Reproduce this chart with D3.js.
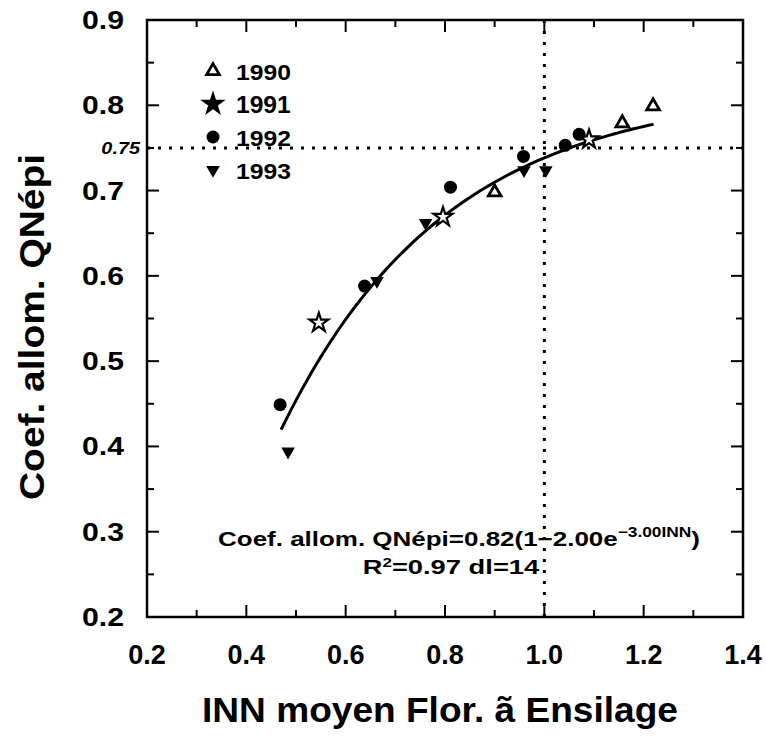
<!DOCTYPE html>
<html><head><meta charset="utf-8">
<script src="https://cdn.jsdelivr.net/npm/d3@7"></script>
<style>body{margin:0;background:#fff}svg{display:block}text{font-family:"Liberation Sans",Arial,sans-serif;fill:#000}</style>
</head><body>
<script>
const years = ["1990","1991","1992","1993"];
const symbols = ["triangle","star","circle","triangleDown"];
const inn1990 = [0.90, 1.157, 1.219];
const coef1990 = [0.698, 0.779, 0.799];
const inn1991 = [0.546, 0.796, 1.090];
const coef1991 = [0.545, 0.669, 0.760];
const inn1992 = [0.468, 0.638, 0.811, 0.958, 1.042, 1.070];
const coef1992 = [0.449, 0.588, 0.704, 0.740, 0.753, 0.766];
const inn1993 = [0.484, 0.663, 0.761, 0.959, 1.003];
const coef1993 = [0.394, 0.594, 0.662, 0.724, 0.724];
const xTicks = [0.2,0.4,0.6,0.8,1.0,1.2,1.4];
const yTicks = [0.2,0.3,0.4,0.5,0.6,0.7,0.8,0.9];
// fitted model parameters, as printed on the chart
const fitA = 0.82, fitB = 2.00, fitC = 3.00;
const fitRange = [0.47, 1.22];
const refX = 1.0, refY = 0.75;

const W=766,H=738;
const L=147,R=743,T=20,B=617;
const svg=d3.select("body").append("svg").attr("width",W).attr("height",H);
const x=d3.scaleLinear().domain([0.2,1.4]).range([L,R]);
const y=d3.scaleLinear().domain([0.2,0.9]).range([B,T]);

// horizontally stretch a text element to a target width around anchor x0
function stretch(sel, x0, target){
  const w = sel.node().getBBox().width;
  const s = target / w;
  sel.attr("transform", `translate(${x0},0) scale(${s},1) translate(${-x0},0)`);
}

// dotted reference lines
svg.append("line").attr("x1",L).attr("x2",R).attr("y1",y(refY)).attr("y2",y(refY))
  .attr("stroke","#000").attr("stroke-width",3).attr("stroke-dasharray","3,8");
svg.append("line").attr("x1",x(refX)).attr("x2",x(refX)).attr("y1",T).attr("y2",B)
  .attr("stroke","#000").attr("stroke-width",3).attr("stroke-dasharray","3,8");

// ticks (inward on all sides)
const xMinor=d3.range(0.3,1.4,0.2), yMinor=d3.range(0.25,0.9,0.1);
const tk=svg.append("g").attr("stroke","#000").attr("stroke-width",2);
xTicks.concat(xMinor).forEach((v,i)=>{
  const len = i<xTicks.length?12:7;
  tk.append("line").attr("x1",x(v)).attr("x2",x(v)).attr("y1",B).attr("y2",B-len);
  tk.append("line").attr("x1",x(v)).attr("x2",x(v)).attr("y1",T).attr("y2",T+len);
});
yTicks.concat(yMinor).forEach((v,i)=>{
  const len = i<yTicks.length?12:7;
  tk.append("line").attr("y1",y(v)).attr("y2",y(v)).attr("x1",L).attr("x2",L+len);
  tk.append("line").attr("y1",y(v)).attr("y2",y(v)).attr("x1",R).attr("x2",R-len);
});
svg.append("rect").attr("x",L).attr("y",T).attr("width",R-L).attr("height",B-T)
  .attr("fill","none").attr("stroke","#000").attr("stroke-width",2.5);

// tick labels
svg.append("g").selectAll("text").data(xTicks).join("text")
  .attr("x",d=>x(d)).attr("y",664).attr("text-anchor","middle")
  .attr("font-size",27).attr("font-weight","bold").text(d=>d.toFixed(1));
svg.append("g").selectAll("text").data(yTicks).join("text")
  .attr("x",124).attr("y",d=>y(d)+9).attr("text-anchor","end")
  .attr("font-size",25).attr("font-weight","bold").text(d=>d.toFixed(1))
  .each(function(){ stretch(d3.select(this),124,42); });
const l75=svg.append("text").attr("x",140).attr("y",y(refY)+6).attr("text-anchor","end")
  .attr("font-size",16).attr("font-weight","bold").attr("font-style","italic").text("0.75");
stretch(l75,140,40);

// axis titles
const xt=svg.append("text").attr("x",440).attr("y",722).attr("text-anchor","middle")
  .attr("font-size",35).attr("font-weight","bold").text("INN moyen Flor. ã Ensilage");
stretch(xt,440,476);
svg.append("text").attr("transform","translate(44,327) rotate(-90)").attr("text-anchor","middle")
  .attr("font-size",35).attr("font-weight","bold")
  .attr("textLength",346).attr("lengthAdjust","spacingAndGlyphs").text("Coef. allom. QNépi");

// fitted curve
const xs=d3.range(fitRange[0],fitRange[1]+0.0001,0.01);
const line=d3.line().x(d=>x(d)).y(d=>y(fitA*(1-fitB*Math.exp(-fitC*d)))).curve(d3.curveBasis);
svg.append("path").attr("d",line(xs)).attr("fill","none").attr("stroke","#000").attr("stroke-width",3);

// markers
function sym(g,type,cx,cy,filledStar){
  if(type==="triangle"){
    g.append("path").attr("d",d3.symbol(d3.symbolTriangle,70)()).attr("transform",`translate(${cx},${cy})`)
     .attr("fill","#fff").attr("stroke","#000").attr("stroke-width",2.8);
  } else if(type==="star"){
    g.append("path").attr("d",d3.symbol(d3.symbolStar,110)()).attr("transform",`translate(${cx},${cy})`)
     .attr("fill",filledStar?"#000":"#fff").attr("stroke","#000").attr("stroke-width",2.2);
  } else if(type==="circle"){
    g.append("circle").attr("cx",cx).attr("cy",cy).attr("r",6.5).attr("fill","#000");
  } else {
    g.append("path").attr("d",d3.symbol(d3.symbolTriangle,80)()).attr("transform",`translate(${cx},${cy}) rotate(180)`)
     .attr("fill","#000");
  }
}
const series=[[inn1990,coef1990],[inn1991,coef1991],[inn1992,coef1992],[inn1993,coef1993]];
const mg=svg.append("g");
series.forEach((s,k)=>s[0].forEach((v,i)=>sym(mg,symbols[k],x(v),y(s[1][i]),false)));

// legend
const lg=svg.append("g");
const legY=[71,104,137,170];
years.forEach((yr,k)=>{
  const cy=legY[k];
  sym(lg,symbols[k],213,cy,true);
  const t=lg.append("text").attr("x",236).attr("y",cy+9).attr("font-size",23).attr("font-weight","bold").text(yr);
  stretch(t,236,55);
});

// equation
const eq=svg.append("text").attr("x",459).attr("y",546).attr("text-anchor","middle")
  .attr("font-size",21).attr("font-weight","bold");
eq.append("tspan").text("Coef. allom. QNépi=0.82(1−2.00e");
eq.append("tspan").attr("dy",-9).attr("font-size",14).text("−3.00INN");
eq.append("tspan").attr("dy",9).text(")");
stretch(eq,459,482);
const r2=svg.append("text").attr("x",451).attr("y",574).attr("text-anchor","middle")
  .attr("font-size",21).attr("font-weight","bold");
r2.append("tspan").text("R");
r2.append("tspan").attr("dy",-7).attr("font-size",13).text("2");
r2.append("tspan").attr("dy",7).text("=0.97  dl=14");
stretch(r2,451,177);
</script>
</body></html>
